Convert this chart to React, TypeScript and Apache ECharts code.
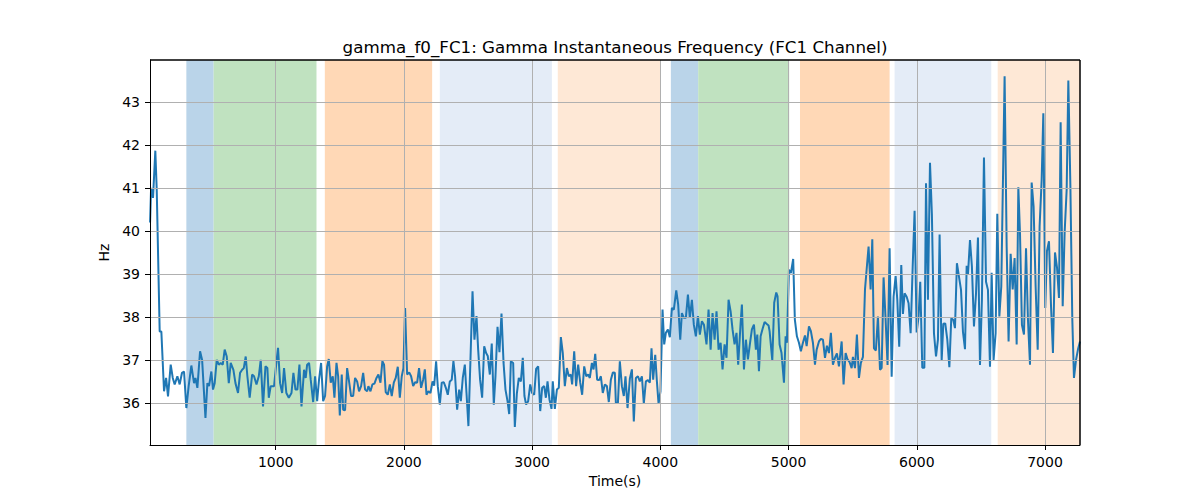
import React, { useEffect, useRef } from 'react';
import * as echarts from 'echarts';

const chartTitle = 'gamma_f0_FC1: Gamma Instantaneous Frequency (FC1 Channel)';
const xTicks = [1000, 2000, 3000, 4000, 5000, 6000, 7000];
const yTicks = [36, 37, 38, 39, 40, 41, 42, 43];
const xRange = [19.5, 7273];
const yRange = [35.02, 43.98];

// shaded periods (seconds)
const bandStarts = [303, 516, 1383, 2280, 3200, 4082, 4295, 5089, 5827, 6631];
const bandEnds = [516, 1318, 2220, 3154, 4002, 4295, 5005, 5788, 6581, 7273];
const bandColors = [
  '#bad4e9', '#c0e2c0', '#ffd8b6', '#e4ecf7', '#fee8d6',
  '#bad4e9', '#c0e2c0', '#ffd8b6', '#e4ecf7', '#fee8d6',
];

// [time (s), Hz]
const gammaF0: [number, number][] = [
  [20, 40.2], [28, 41.0], [43, 40.77], [61, 41.87], [72, 40.96], [95, 37.66], [108, 37.66], [129, 36.27],
  [145, 36.58], [160, 36.15], [181, 36.89], [197, 36.58], [212, 36.43], [233, 36.62], [251, 36.43], [269, 36.7],
  [285, 36.73], [303, 35.88], [321, 36.39], [342, 36.87], [363, 36.46], [374, 36.58], [389, 36.35], [410, 37.2],
  [426, 37.0], [452, 35.65], [467, 36.46], [480, 36.39], [498, 36.73], [511, 36.31], [524, 36.46], [540, 37.0],
  [556, 36.89], [571, 36.93], [587, 36.89], [602, 37.24], [618, 37.08], [634, 36.46], [649, 36.93], [670, 36.77],
  [686, 36.46], [706, 36.23], [722, 36.7], [738, 36.77], [751, 36.81], [766, 37.08], [779, 36.62], [797, 36.12],
  [816, 36.66], [831, 36.62], [850, 36.43], [868, 36.62], [883, 37.0], [901, 35.92], [920, 36.85], [935, 36.81],
  [946, 36.12], [961, 36.39], [987, 36.39], [1005, 36.93], [1018, 37.28], [1034, 36.46], [1050, 36.23], [1065, 36.81],
  [1083, 36.23], [1102, 36.12], [1123, 36.23], [1138, 36.7], [1154, 36.31], [1169, 36.31], [1185, 36.89], [1201, 35.92],
  [1221, 36.77], [1234, 36.58], [1245, 36.89], [1260, 36.93], [1273, 36.54], [1292, 36.02], [1307, 36.62], [1323, 36.04],
  [1338, 36.54], [1354, 36.93], [1370, 36.04], [1385, 36.16], [1401, 36.85], [1414, 37.02], [1429, 36.47], [1445, 36.62],
  [1458, 36.12], [1474, 36.93], [1487, 36.62], [1500, 35.71], [1515, 36.66], [1526, 35.84], [1541, 35.83], [1557, 36.81],
  [1572, 36.5], [1588, 36.16], [1604, 36.16], [1619, 36.58], [1635, 36.5], [1650, 36.27], [1666, 36.39], [1682, 36.7],
  [1697, 36.31], [1713, 36.27], [1723, 36.39], [1739, 36.27], [1754, 36.43], [1770, 36.45], [1786, 36.58], [1801, 36.66],
  [1817, 36.47], [1832, 36.97], [1845, 36.89], [1858, 36.25], [1874, 36.19], [1890, 36.43], [1905, 36.16], [1921, 36.47],
  [1936, 36.58], [1952, 36.84], [1968, 36.12], [1983, 36.62], [1996, 36.81], [2009, 38.21], [2025, 36.66], [2041, 36.71],
  [2056, 36.62], [2072, 36.39], [2087, 36.48], [2103, 36.47], [2118, 36.81], [2134, 36.35], [2150, 36.54], [2163, 36.78],
  [2176, 36.19], [2191, 36.27], [2207, 36.23], [2223, 36.5], [2236, 36.4], [2251, 36.97], [2264, 36.39], [2280, 35.96],
  [2295, 36.47], [2311, 36.48], [2327, 36.35], [2342, 36.19], [2358, 36.5], [2373, 36.54], [2386, 36.97], [2399, 36.62],
  [2415, 35.84], [2431, 36.31], [2444, 36.04], [2459, 36.58], [2475, 36.89], [2488, 36.23], [2503, 35.46], [2519, 37.01],
  [2535, 38.6], [2550, 37.47], [2566, 38.02], [2579, 37.24], [2594, 36.54], [2610, 36.12], [2626, 37.32], [2641, 37.16],
  [2654, 37.09], [2670, 36.66], [2685, 37.38], [2701, 35.96], [2714, 36.62], [2730, 37.77], [2745, 37.18], [2761, 38.08],
  [2777, 36.93], [2792, 36.31], [2808, 36.04], [2821, 35.74], [2834, 36.97], [2852, 36.93], [2865, 35.44], [2881, 36.23],
  [2896, 36.58], [2912, 36.5], [2927, 37.05], [2940, 36.16], [2953, 35.96], [2969, 36.04], [2985, 36.43], [3000, 36.23],
  [3016, 36.19], [3031, 36.79], [3047, 36.85], [3063, 35.81], [3078, 36.35], [3094, 36.39], [3107, 36.12], [3120, 36.5],
  [3135, 36.08], [3151, 35.86], [3161, 36.5], [3177, 35.86], [3193, 36.31], [3208, 36.35], [3224, 37.53], [3239, 37.16],
  [3255, 36.39], [3271, 36.81], [3286, 36.62], [3302, 36.66], [3312, 36.43], [3328, 37.2], [3343, 36.39], [3359, 36.89],
  [3375, 36.47], [3390, 36.19], [3406, 36.85], [3422, 36.62], [3437, 36.66], [3450, 36.58], [3466, 36.93], [3479, 36.78],
  [3492, 37.14], [3507, 36.54], [3523, 36.53], [3536, 36.62], [3551, 36.23], [3567, 36.43], [3583, 36.39], [3598, 36.02],
  [3614, 36.54], [3630, 36.71], [3645, 36.7], [3653, 36.0], [3669, 36.0], [3684, 36.97], [3700, 36.39], [3715, 36.16],
  [3728, 36.62], [3744, 35.88], [3762, 36.56], [3778, 36.78], [3793, 35.57], [3809, 36.58], [3825, 36.62], [3840, 36.5],
  [3856, 36.62], [3871, 35.98], [3887, 36.5], [3903, 36.53], [3918, 36.47], [3931, 37.27], [3944, 36.54], [3960, 37.12],
  [3973, 36.5], [3986, 35.98], [4001, 36.27], [4017, 38.17], [4030, 37.36], [4043, 37.63], [4059, 37.71], [4074, 37.53],
  [4090, 38.21], [4105, 38.17], [4124, 38.62], [4139, 38.29], [4155, 37.47], [4168, 38.09], [4183, 37.98], [4199, 37.98],
  [4215, 38.52], [4230, 37.98], [4246, 38.4], [4261, 37.82], [4277, 37.55], [4293, 38.02], [4308, 37.59], [4324, 37.9],
  [4340, 37.82], [4360, 37.36], [4376, 38.17], [4392, 37.24], [4407, 38.09], [4423, 37.47], [4438, 38.13], [4454, 37.24],
  [4470, 37.4], [4485, 36.78], [4501, 37.36], [4516, 37.05], [4532, 38.4], [4548, 38.13], [4563, 37.71], [4579, 37.36],
  [4594, 37.63], [4607, 36.89], [4626, 37.86], [4636, 38.29], [4652, 36.78], [4667, 37.47], [4683, 37.01], [4698, 37.36],
  [4714, 37.71], [4730, 37.82], [4745, 37.24], [4756, 37.59], [4769, 36.74], [4782, 37.55], [4797, 37.72], [4813, 37.88],
  [4828, 37.84], [4844, 37.8], [4852, 37.67], [4873, 36.99], [4888, 38.33], [4904, 38.57], [4914, 38.48], [4930, 37.36],
  [4945, 37.16], [4964, 36.47], [4977, 37.55], [4987, 37.4], [5003, 39.1], [5018, 39.02], [5036, 39.35], [5049, 37.94],
  [5065, 37.55], [5081, 37.4], [5096, 37.2], [5112, 37.4], [5128, 37.57], [5141, 37.32], [5159, 37.78], [5174, 37.67],
  [5190, 37.4], [5206, 36.89], [5219, 37.24], [5237, 37.43], [5252, 37.49], [5268, 37.47], [5284, 37.05], [5299, 37.33],
  [5315, 37.16], [5330, 37.63], [5346, 36.89], [5362, 37.05], [5377, 37.15], [5393, 36.85], [5414, 37.43], [5429, 36.43],
  [5445, 37.16], [5460, 37.01], [5476, 36.95], [5492, 36.81], [5502, 37.07], [5518, 36.81], [5533, 37.59], [5549, 36.58],
  [5564, 36.93], [5580, 37.07], [5596, 38.64], [5611, 39.18], [5624, 39.64], [5640, 38.64], [5653, 39.81], [5666, 37.27],
  [5681, 37.22], [5697, 38.01], [5713, 36.77], [5726, 36.81], [5741, 38.92], [5757, 37.93], [5772, 36.88], [5788, 39.6],
  [5804, 36.61], [5819, 38.47], [5835, 38.95], [5848, 38.4], [5863, 37.31], [5879, 39.21], [5892, 38.07], [5905, 38.55],
  [5921, 38.47], [5936, 38.32], [5952, 37.62], [5968, 39.17], [5983, 40.47], [5999, 37.64], [6014, 38.01], [6027, 38.82],
  [6043, 36.82], [6059, 36.82], [6072, 41.11], [6087, 38.4], [6103, 41.59], [6118, 40.37], [6134, 37.62], [6150, 37.08],
  [6165, 37.47], [6178, 39.92], [6194, 36.98], [6207, 37.84], [6222, 37.85], [6238, 37.47], [6254, 36.83], [6269, 37.97],
  [6285, 37.93], [6298, 37.74], [6313, 39.25], [6329, 38.94], [6345, 38.63], [6360, 37.66], [6376, 37.25], [6389, 39.19],
  [6399, 38.98], [6415, 39.79], [6430, 39.17], [6446, 37.78], [6462, 38.55], [6477, 39.85], [6493, 36.88], [6508, 38.4],
  [6524, 41.71], [6540, 38.82], [6555, 38.63], [6571, 36.84], [6584, 39.03], [6599, 37.0], [6615, 37.62], [6628, 40.4],
  [6644, 38.01], [6659, 38.71], [6685, 43.6], [6701, 39.64], [6716, 37.43], [6732, 39.47], [6748, 38.64], [6763, 39.37],
  [6779, 37.36], [6792, 41.02], [6805, 39.95], [6820, 37.82], [6836, 37.59], [6852, 39.6], [6867, 37.94], [6883, 36.89],
  [6896, 41.13], [6911, 40.57], [6927, 38.71], [6943, 37.24], [6958, 40.11], [6974, 41.19], [6987, 42.74], [7002, 38.21],
  [7015, 39.53], [7031, 39.76], [7047, 38.25], [7062, 37.16], [7078, 39.5], [7094, 39.14], [7109, 38.44], [7122, 42.53],
  [7138, 38.25], [7153, 39.95], [7169, 40.96], [7182, 43.5], [7198, 41.04], [7213, 37.94], [7226, 36.58], [7242, 37.0],
  [7257, 37.24], [7273, 37.43],
];

const font = 'DejaVu Sans';

const App: React.FC = () => {
  const chartRef = useRef<HTMLDivElement>(null);

  useEffect(() => {
    document.body.style.margin = '0';
    if (!chartRef.current) return;
    const chart = echarts.init(chartRef.current, undefined, { renderer: 'svg' });

    const bands = bandStarts.map((s, i) => [
      { xAxis: s, itemStyle: { color: bandColors[i], opacity: 1 } },
      { xAxis: bandEnds[i] },
    ]);

    const gridLines = [...xTicks.map((v) => ({ xAxis: v })), ...yTicks.map((v) => ({ yAxis: v }))];
    // top and right spines, drawn above the shaded bands
    const spine = { lineStyle: { color: '#000', width: 1.5, type: 'solid' } };
    const spines = [
      { yAxis: yRange[1], ...spine },
      { xAxis: xRange[1], ...spine },
    ];

    const axisCommon = {
      type: 'value',
      z: 10,
      nameLocation: 'middle',
      nameTextStyle: { fontSize: 14, color: '#000', fontFamily: font },
      axisLine: { show: true, onZero: false, lineStyle: { color: '#000', width: 1 } },
      splitLine: { show: false },
    };

    const option = {
      animation: false,
      textStyle: { fontFamily: font },
      graphic: [
        {
          type: 'text',
          x: 615,
          y: 47,
          style: {
            text: chartTitle,
            fontSize: 16.7,
            fontFamily: font,
            fill: '#000',
            textAlign: 'center',
            textVerticalAlign: 'middle',
          },
        },
      ],
      grid: { left: 150, right: 120, top: 60, bottom: 55 },
      xAxis: {
        ...axisCommon,
        min: xRange[0],
        max: xRange[1],
        name: 'Time(s)',
        nameGap: 28,
        axisTick: { show: true, length: 5, customValues: xTicks, lineStyle: { color: '#000' } },
        axisLabel: {
          customValues: xTicks,
          margin: 10,
          fontSize: 14,
          color: '#000',
          fontFamily: font,
          formatter: (v: number) => String(v),
        },
      },
      yAxis: {
        ...axisCommon,
        min: yRange[0],
        max: yRange[1],
        name: 'Hz',
        nameGap: 32,
        axisTick: { show: true, length: 5, customValues: yTicks, lineStyle: { color: '#000' } },
        axisLabel: {
          customValues: yTicks,
          margin: 10,
          fontSize: 14,
          color: '#000',
          fontFamily: font,
          formatter: (v: number) => String(v),
        },
      },
      series: [
        {
          type: 'line',
          data: gammaF0,
          z: 1,
          silent: true,
          showSymbol: false,
          lineStyle: { opacity: 0 },
          markArea: { silent: true, label: { show: false }, data: bands },
        },
        {
          type: 'line',
          data: gammaF0,
          z: 2,
          silent: true,
          showSymbol: false,
          lineStyle: { opacity: 0 },
          markLine: {
            silent: true,
            symbol: ['none', 'none'],
            label: { show: false },
            lineStyle: { color: '#b0b0b0', width: 1, type: 'solid' },
            data: [...gridLines, ...spines],
          },
        },
        {
          type: 'line',
          data: gammaF0,
          z: 3,
          showSymbol: false,
          lineStyle: { color: '#1f77b4', width: 2 },
          itemStyle: { color: '#1f77b4' },
        },
      ],
    };

    chart.setOption(option);

    return () => {
      chart.dispose();
    };
  }, []);

  return <div ref={chartRef} style={{ width: '1200px', height: '500px' }}></div>;
};

export default App;
